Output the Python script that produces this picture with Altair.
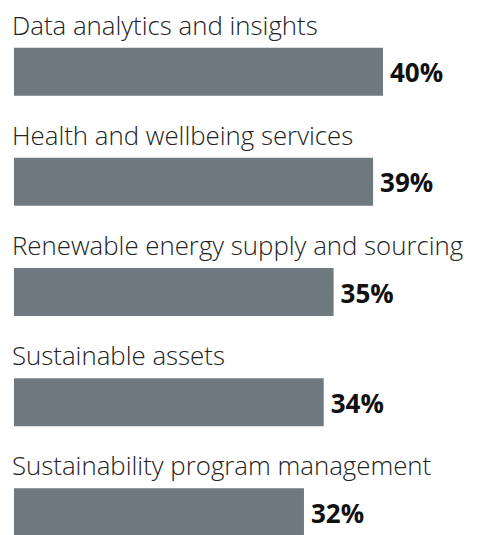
import altair as alt
import pandas as pd

categories = [
    "Data analytics and insights",
    "Health and wellbeing services",
    "Renewable energy supply and sourcing",
    "Sustainable assets",
    "Sustainability program management",
]
values = [40, 39, 35, 34, 32]
value_labels = ["40%", "39%", "35%", "34%", "32%"]

XMIN = 2.63
XMAX = 50

df = pd.DataFrame({"category": categories, "value": values, "label": value_labels})
df["start"] = XMIN

y_enc = alt.Y(
    "category:N",
    sort=categories,
    axis=None,
    scale=alt.Scale(type="point", range=[63.7, 504.3], padding=0),
)
x_scale = alt.Scale(domain=[XMIN, XMAX], range=[6, 473.7], zero=False, nice=False)

base = alt.Chart(df)

bars = base.mark_bar(height=48, color="#6E7A80").encode(
    x=alt.X("value:Q", scale=x_scale, axis=None),
    x2="start:Q",
    y=y_enc,
)

cat_text = base.mark_text(
    align="left", baseline="alphabetic", dy=-37.0,
    font="Open Sans", fontWeight=300, fontSize=25.8, color="#222222",
).encode(
    x=alt.value(4),
    y=y_enc,
    text="category:N",
)

val_text = base.mark_text(
    align="left", baseline="alphabetic", dy=10.5, dx=7,
    font="Open Sans", fontWeight="bold", fontSize=26, color="#111111",
).encode(
    x=alt.X("value:Q", scale=x_scale, axis=None),
    y=y_enc,
    text="label:N",
)

chart = alt.layer(bars, cat_text, val_text).properties(
    width=463, height=527, padding=0, autosize=alt.AutoSizeParams(type="none")
).configure_view(stroke=None)

chart.save("out.html", embed_options={"renderer": "svg", "actions": False})
